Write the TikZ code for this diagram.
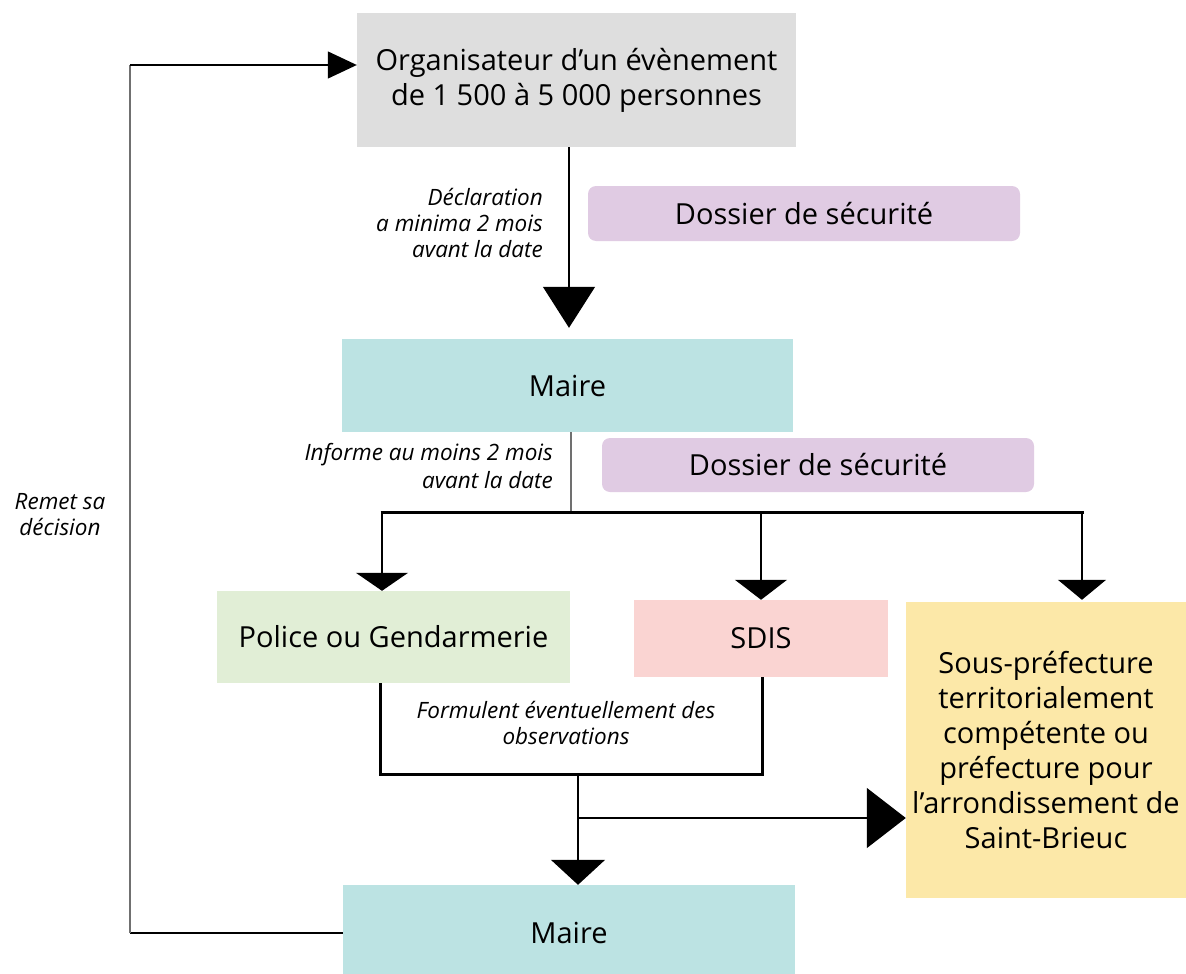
\documentclass[tikz,border=0pt]{standalone}
\usepackage{fontspec}
\setmainfont{Open Sans}
\usetikzlibrary{arrows.meta}

\definecolor{orggray}{HTML}{DEDEDE}
\definecolor{mairecyan}{HTML}{BCE3E3}
\definecolor{dossierlilac}{HTML}{E0CBE3}
\definecolor{policegreen}{HTML}{E1EED6}
\definecolor{sdispink}{HTML}{FAD4D2}
\definecolor{prefyellow}{HTML}{FCE8A8}
\definecolor{linegray}{HTML}{707070}

\tikzset{
  boxbase/.style={rectangle, inner sep=0pt, align=center, text=black,
    font=\fontsize{29}{35}\selectfont},
  orgbox/.style={boxbase, fill=orggray},
  mairebox/.style={boxbase, fill=mairecyan},
  dossierbox/.style={boxbase, fill=dossierlilac, rounded corners=8pt},
  policebox/.style={boxbase, fill=policegreen},
  sdisbox/.style={boxbase, fill=sdispink},
  prefbox/.style={boxbase, fill=prefyellow},
  note/.style={inner sep=0pt, font=\fontsize{22.5}{26}\selectfont\itshape},
  flow/.style={line width=1.3pt, draw=black},
  bar/.style={line width=3pt, draw=black},
}

\begin{document}
\begin{tikzpicture}[x=1pt, y=-1pt]
\useasboundingbox (0,0) rectangle (1186,974);

% boxes
\node[orgbox, minimum width=439pt, minimum height=134pt] (org) at (576.5,80)
  {Organisateur d’un évènement\\de 1 500 à 5 000 personnes};
\node[dossierbox, minimum width=432pt, minimum height=55pt] (dos1) at (804,213.5)
  {Dossier de sécurité};
\node[mairebox, minimum width=451pt, minimum height=93pt] (maire1) at (567.5,385.5)
  {Maire};
\node[dossierbox, minimum width=432pt, minimum height=54pt] (dos2) at (818,465)
  {Dossier de sécurité};
\node[policebox, minimum width=353pt, minimum height=92pt] (police) at (393.5,637)
  {Police ou Gendarmerie};
\node[sdisbox, minimum width=254pt, minimum height=77pt] (sdis) at (761,638.5)
  {SDIS};
\node[prefbox, minimum width=280pt, minimum height=296pt] (pref) at (1046,750)
  {Sous-préfecture\\territorialement\\compétente ou\\préfecture pour\\l’arrondissement de\\Saint-Brieuc};
\node[mairebox, minimum width=452pt, minimum height=96pt] (maire2) at (569,933)
  {Maire};

% annotations
\node[note, align=right, anchor=north east] (lbl1) at (543,188)
  {Déclaration\\a minima 2 mois\\avant la date};
\node[note, align=right, anchor=north east, font=\fontsize{22.5}{28}\selectfont\itshape]
  (lbl2) at (553,443)
  {Informe au moins 2 mois\\avant la date};
\node[note, align=center] (lbl3) at (566,723)
  {Formulent éventuellement des\\observations};
\node[note, align=center] (lbl4) at (60,515)
  {Remet sa\\décision};

% junction points
\coordinate (x1) at (569,0);
\coordinate (x2) at (571,0);
\coordinate (barL) at (382,512);
\coordinate (barR) at (1082,512);
\coordinate (xs) at (761,0);
\coordinate (brL) at (380,774);
\coordinate (brR) at (762,774);
\coordinate (x3) at (578,0);
\coordinate (split) at (578,818);
\coordinate (retB) at (130,933);
\coordinate (retT) at (130,65);

% organiser -> mayor
\draw[flow, -{Triangle[width=52pt,length=41pt]}, shorten >=11pt]
  (org.south -| x1) -- (maire1.north -| x1);

% mayor -> services
\draw[line width=1.3pt, draw=linegray] (maire1.south -| x2) -- (barL -| x2);
\draw[bar] ([xshift=-1.5pt]barL) -- ([xshift=1.5pt]barR);
\draw[flow, -{Triangle[width=52pt,length=18pt]}] (barL) -- (police.north -| barL);
\draw[flow, -{Triangle[width=52pt,length=20pt]}] (barL -| xs) -- (sdis.north -| xs);
\draw[flow, -{Triangle[width=48pt,length=20pt]}, shorten >=2pt] (barR) -- (pref.north -| barR);

% observations bracket
\draw[bar] (police.south -| brL) -- (brL) -- (brR) -- (sdis.south -| brR);

% back to mayor and prefecture
\draw[flow, -{Triangle[width=54pt,length=25pt]}] (brL -| x3) -- (maire2.north -| x3);
\draw[flow, -{Triangle[width=60pt,length=39pt]}] (split) -- (pref.west |- split);

% decision returned to the organiser
\draw[flow] (maire2.west |- retB) -- (retB);
\draw[line width=1.3pt, draw=linegray] (retB) -- (retT);
\draw[flow, -{Triangle[width=27pt,length=29pt]}] (retT) -- (org.west |- retT);
\end{tikzpicture}
\end{document}
